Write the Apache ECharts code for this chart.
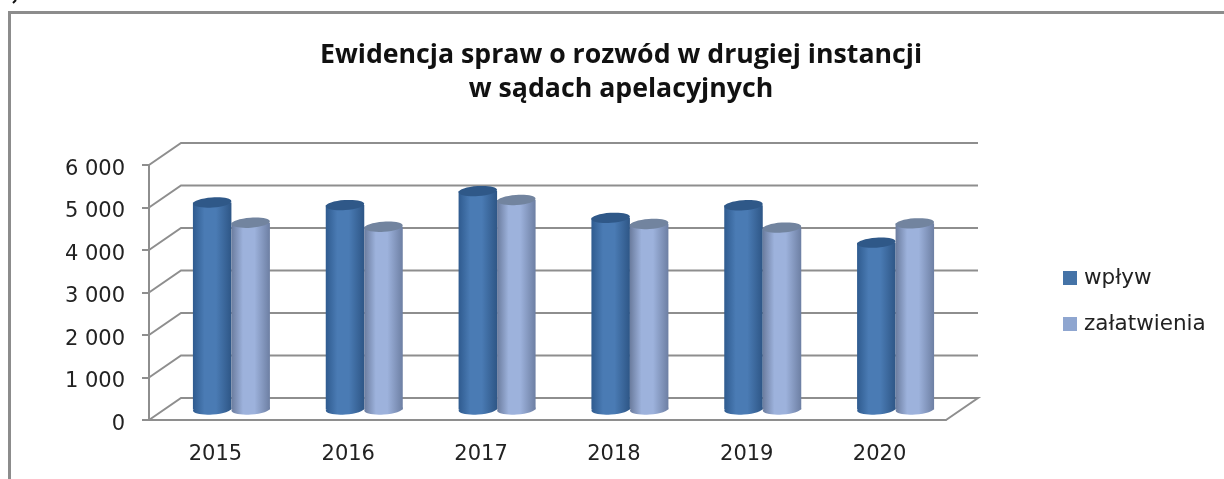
<!DOCTYPE html>
<html><head><meta charset="utf-8">
<style>html,body{margin:0;padding:0;background:#fff}#c{width:1224px;height:479px}</style>
<script src="https://cdn.jsdelivr.net/npm/echarts@6/dist/echarts.min.js"></script>
</head><body><div id="c"></div>
<script>
const categories = ['2015','2016','2017','2018','2019','2020'];
const wplyw = [4870,4810,5140,4510,4805,3925];
const zalatwienia = [4395,4300,4930,4365,4280,4380];
const yTicks = [0,1000,2000,3000,4000,5000,6000];
const titleText = 'Ewidencja spraw o rozwód w drugiej instancji\nw sądach apelacyjnych';

const FONT = '"Open Sans"';
const LABEL_FONT = '"DejaVu Sans"';
const GRID = '#8e8e8e';
const DEPTH = {x:32, y:-22};
const MID = {x:16, y:-10.5};
const BAR_W = 38.5, RY = 5, TILT = 0.07;

function wallRender(params, api){
  const cs = params.coordSys;
  const v = api.value(0);
  const y0 = api.coord([0, v])[1];
  const xl = cs.x, xr = cs.x + cs.width;
  const pts = [[xl, y0],[xl+DEPTH.x, y0+DEPTH.y],[xr+DEPTH.x, y0+DEPTH.y]];
  if (v === 0) pts.push([xr, y0]);
  return {type:'polyline', shape:{points:pts}, style:{fill:null, stroke:GRID, lineWidth:2}, silent:true};
}
function cylinder(side, edge1, mid, edge2, top){
  return function(params, api){
    const idx = api.value(0);
    const val = api.value(1);
    const base = api.coord([idx, 0]);
    const head = api.coord([idx, val]);
    const cx = base[0] + MID.x + side*BAR_W/2;
    const yb = base[1] + MID.y, yt = head[1] + MID.y;
    const rx = BAR_W/2;
    const grad = {type:'linear',x:0,y:0,x2:1,y2:0,colorStops:[
      {offset:0,color:edge1},{offset:0.3,color:mid},{offset:0.6,color:mid},{offset:1,color:edge2}]};
    return {type:'group', children:[
      {type:'ellipse', x:cx, y:yb, rotation:TILT, shape:{cx:0,cy:0,rx:rx,ry:RY}, style:{fill:grad}},
      {type:'rect', shape:{x:cx-rx, y:yt, width:BAR_W, height:yb-yt}, style:{fill:grad}},
      {type:'ellipse', x:cx, y:yt, rotation:TILT, shape:{cx:0,cy:0,rx:rx,ry:RY}, style:{fill:top}}
    ]};
  };
}
const chart = echarts.init(document.getElementById('c'), null, {renderer:'canvas'});
chart.setOption({
  animation:false,
  backgroundColor:'#fff',
  title:{text:titleText, left:616, top:33, textAlign:'center',
    textStyle:{fontFamily:FONT, fontWeight:'bold', fontSize:26.7, lineHeight:34, color:'#111'}},
  legend:{orient:'vertical', left:1058, top:262, itemWidth:14, itemHeight:14, itemGap:24,
    icon:'rect', data:['wpływ','załatwienia'],
    textStyle:{fontFamily:LABEL_FONT, fontSize:21.5, color:'#222', padding:[0,0,0,2]}},
  grid:{left:149, right:278, top:165, bottom:59},
  xAxis:{type:'category', data:categories,
    axisLine:{lineStyle:{color:GRID,width:2}},
    axisTick:{length:8, lineStyle:{color:GRID,width:2}},
    axisLabel:{fontFamily:LABEL_FONT, fontSize:21, color:'#222', margin:24},
    splitLine:{show:false}},
  yAxis:{type:'value', min:0, max:6000, interval:1000,
    axisLine:{show:true, lineStyle:{color:GRID,width:2}},
    axisTick:{show:true, length:7, lineStyle:{color:GRID,width:2}},
    axisLabel:{fontFamily:LABEL_FONT, fontSize:21, color:'#222', margin:24, verticalAlign:'top', lineHeight:9,
      formatter:v=>String(v).replace(/\B(?=(\d{3})+$)/g,' ')},
    splitLine:{show:false}},
  graphic:[
    {type:'polyline', shape:{points:[[9.5,479],[9.5,12.5],[1224,12.5]]},
     style:{fill:null, stroke:'#8c8c8c', lineWidth:3}, silent:true},
    {type:'line', shape:{x1:16,y1:0,x2:13,y2:3}, style:{stroke:'#111', lineWidth:2}, silent:true}
  ],
  series:[
    {type:'custom', name:'siatka', coordinateSystem:'cartesian2d', z:1, silent:true,
     data:yTicks.map(v=>[v]), encode:{y:0}, renderItem:wallRender},
    {type:'custom', name:'wpływ', coordinateSystem:'cartesian2d', z:3, itemStyle:{color:'#4573a7'},
     data:wplyw.map((v,i)=>[i,v]), encode:{x:0,y:1},
     renderItem:cylinder(-1,'#2f5b8f','#4a7bb4','#2e5686','#2f5888')},
    {type:'custom', name:'załatwienia', coordinateSystem:'cartesian2d', z:4, itemStyle:{color:'#8fa6d0'},
     data:zalatwienia.map((v,i)=>[i,v]), encode:{x:0,y:1},
     renderItem:cylinder(1,'#6b7c9e','#9db2dc','#6d7fa3','#72849f')}
  ]
});
</script></body></html>
